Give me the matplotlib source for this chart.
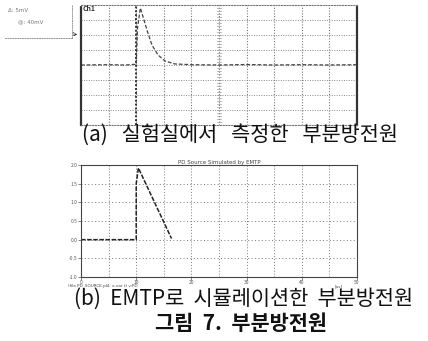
import matplotlib
matplotlib.use("Agg")
import matplotlib.pyplot as plt
import numpy as np

plt.rcParams['font.family'] = ['Noto Sans CJK KR', 'DejaVu Sans']

# --- data: (a) measured PD pulse (oscilloscope divisions) ---
meas_t = [0.0, 1.0, 1.6, 2.0, 2.05, 2.15, 2.25, 2.39, 2.57, 2.79, 3.04, 3.4, 4.0, 5.0, 6.0, 7.0, 8.0, 9.0, 10.0]
meas_v = [0.0, 0.02, 0.0, 0.05, 2.5, 3.8, 3.2, 2.33, 1.33, 0.67, 0.27, 0.07, 0.02, 0.0, 0.03, 0.0, 0.02, 0.0, 0.02]

# --- data: (b) EMTP simulated PD source ---
sim_t = [0.0, 10.0, 10.0, 10.4, 16.4]
sim_v = [0.0, 0.0, 1.5, 1.92, 0.03]
sim_yticks = [-1.0, -0.5, 0.0, 0.5, 1.0, 1.5, 2.0]
sim_ytick_labels = ['-1.0', '-0.5', '0.0', '0.5', '1.0', '1.5', '2.0']
sim_xticks = [0, 10, 20, 30, 40, 50]

captions = ['(a)   실험실에서   측정한   부분방전원',
            '(b)  EMTP로  시뮬레이션한  부분방전원',
            '그림  7.  부분방전원']

W, H = 428, 341
fig = plt.figure(figsize=(W / 100, H / 100), dpi=100)
fig.patch.set_facecolor('white')

def frac(x0, y0, x1, y1):
    return [x0 / W, 1 - y1 / H, (x1 - x0) / W, (y1 - y0) / H]

# ---------- (a) oscilloscope ----------
ax1 = fig.add_axes(frac(81, 5, 357, 125))
ax1.set_xlim(0, 10)
ax1.set_ylim(-4, 4)
for x in range(1, 10):
    ax1.axvline(x, color='#777777', ls=(0, (1, 1.5)), lw=0.8)
for y in range(-3, 4):
    ax1.axhline(y, color='#888888', ls=(0, (1, 1.5)), lw=0.7)
ax1.axvline(2, color='#333333', ls=(0, (1, 1)), lw=1.4)
# centre graticule ticks
for y in np.arange(-4, 4.01, 0.2):
    ax1.plot([4.93, 5.07], [y, y], color='#999999', lw=0.5)
ax1.plot(meas_t, meas_v, color='#444444', lw=0.9, ls=(0, (3, 1.5)))
for s in ['left', 'right']:
    ax1.spines[s].set_linewidth(1.6)
    ax1.spines[s].set_linestyle((0, (2, 1)))
    ax1.spines[s].set_color('#333333')
for s in ['top', 'bottom']:
    ax1.spines[s].set_linewidth(0.8)
    ax1.spines[s].set_linestyle((0, (1, 1.5)))
    ax1.spines[s].set_color('#777777')
ax1.set_xticks([])
ax1.set_yticks([])
ax1.text(0.05, 3.75, 'Ch1', fontsize=5, fontweight='bold', color='#333333', va='center')
ax1.text(-0.12, 2, '1▸', fontsize=4, color='#333333', ha='right', va='center',
         family=['DejaVu Sans'])

# small info box at top left
bx = fig.add_axes(frac(5, 5, 72, 38))
bx.set_xticks([]); bx.set_yticks([])
for s in bx.spines.values():
    s.set_linestyle((0, (1, 1.5))); s.set_color('#999999'); s.set_linewidth(0.7)
bx.spines['top'].set_visible(False)
bx.spines['left'].set_visible(False)
bx.text(0.05, 0.8, 'Δ: 5mV', fontsize=4, color='#777777', family=['DejaVu Sans'])
bx.text(0.2, 0.45, '@: 40mV', fontsize=4, color='#777777', family=['DejaVu Sans'])

# ---------- (b) EMTP ----------
ax2 = fig.add_axes(frac(81, 165, 357, 277))
ax2.set_xlim(0, 50)
ax2.set_ylim(-1.0, 2.0)
for x in np.arange(5, 50, 5):
    ax2.axvline(x, color='#777777', ls=(0, (1, 2)), lw=0.7)
for y in sim_yticks[1:-1]:
    ax2.axhline(y, color='#777777', ls=(0, (1, 2.5)), lw=0.7)
ax2.plot(sim_t, sim_v, color='#222222', lw=1.1, ls=(0, (3, 1)))
ax2.set_yticks(sim_yticks)
ax2.set_yticklabels(sim_ytick_labels)
ax2.set_xticks(sim_xticks)
ax2.tick_params(labelsize=3.5, length=2, width=0.5, pad=0.5, colors='#555555')
for s in ax2.spines.values():
    s.set_linestyle((0, (1, 1)))
    s.set_color('#444444')
    s.set_linewidth(0.8)
ax2.set_title('PD Source Simulated by EMTP', fontsize=4, pad=1, color='#444444',
              family=['DejaVu Sans'])
fig.text(68 / W, 1 - 287 / H, '(file PD_SOURCE.pl4; x-var t) v:PD', fontsize=3,
         color='#444444', family=['DejaVu Sans'])
fig.text(335 / W, 1 - 287 / H, '[us]', fontsize=3, color='#444444',
         family=['DejaVu Sans'])

# ---------- captions ----------
fig.text(240 / W, 1 - 135 / H, captions[0], fontsize=15, ha='center', va='center', color='#111111')
fig.text(244 / W, 1 - 299 / H, captions[1], fontsize=15, ha='center', va='center', color='#111111')
fig.text(241 / W, 1 - 324 / H, captions[2], fontsize=15, ha='center', va='center',
         fontweight='bold', color='#111111')

fig.savefig('out.png', dpi=100, facecolor='white')
